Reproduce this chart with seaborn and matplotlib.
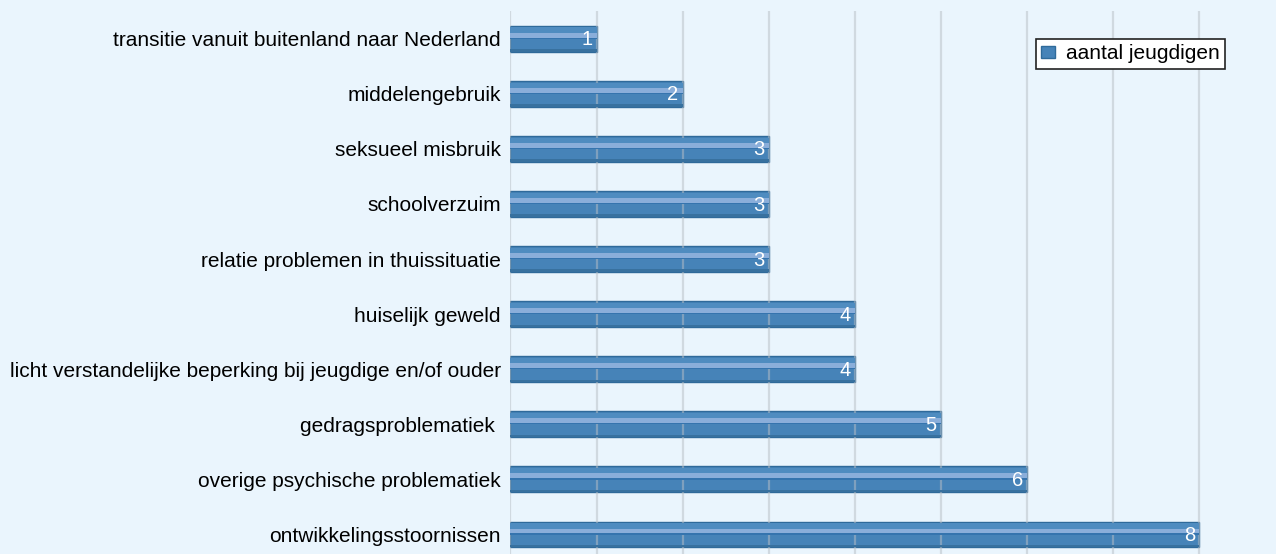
import matplotlib
matplotlib.use("Agg")
import matplotlib.pyplot as plt
import pandas as pd
import seaborn as sns

# data
categories = [
    "transitie vanuit buitenland naar Nederland",
    "middelengebruik",
    "seksueel misbruik",
    "schoolverzuim",
    "relatie problemen in thuissituatie",
    "huiselijk geweld",
    "licht verstandelijke beperking bij jeugdige en/of ouder",
    "gedragsproblematiek ",
    "overige psychische problematiek",
    "ontwikkelingsstoornissen",
]
counts = [1, 2, 3, 3, 3, 4, 4, 5, 6, 8]
series_name = "aantal jeugdigen"

BG = "#EAF5FD"
BAR = "#4683B8"
EDGE = "#2F6A9A"

df = pd.DataFrame({"categorie": categories, "aantal": counts})

sns.set_style("white")
plt.rcParams["font.family"] = ["Liberation Sans", "DejaVu Sans"]

fig = plt.figure(figsize=(12.76, 5.54), dpi=100, facecolor=BG)
ax = fig.add_axes([0.4, -0.0145, 0.6, 0.9945])
ax.set_facecolor(BG)

sns.barplot(data=df, x="aantal", y="categorie", orient="h", color=BAR,
            saturation=1, width=0.47, edgecolor=EDGE, linewidth=1.0,
            ax=ax, zorder=2, label=series_name)

# bevel look: lighter top band, light strip, dark centre line, darker bottom band
pos = list(range(len(categories)))
ax.barh([p - 0.155 for p in pos], counts, height=0.095, color="#4F8CC0",
        linewidth=0, zorder=3)
ax.barh([p - 0.063 for p in pos], counts, height=0.09, color="#8AAEDA",
        linewidth=0, zorder=3)
ax.barh([p - 0.008 for p in pos], counts, height=0.022, color="#3574AE",
        linewidth=0, zorder=4)
ax.barh([p + 0.212 for p in pos], counts, height=0.045, color="#38719F",
        linewidth=0, zorder=3)

for p, v in zip(pos, counts):
    ax.text(v - 0.05, p + 0.02, str(v), color="white", ha="right", va="center",
            fontsize=14.5, zorder=6)

ax.set_xlim(0, 8.89)
ax.set_ylim(len(categories) - 0.5, -0.5)
ax.set_xticks(range(0, 9))
ax.xaxis.grid(True, color="#B8BEC4", linewidth=1.6, alpha=0.5, zorder=5)
ax.set_axisbelow(False)
ax.tick_params(axis="x", length=0, labelbottom=False)
ax.tick_params(axis="y", length=0, labelsize=15, labelcolor="black", pad=7)
ax.set_xlabel("")
ax.set_ylabel("")
for s in ax.spines.values():
    s.set_visible(False)

leg = ax.legend(loc="upper right", bbox_to_anchor=(0.933, 0.949),
                fontsize=15, frameon=True, fancybox=False,
                handlelength=0.7, handleheight=0.5, handletextpad=0.5,
                borderpad=0.25, borderaxespad=0)
leg.get_frame().set_edgecolor("#222222")
leg.get_frame().set_linewidth(1.2)
leg.get_frame().set_facecolor("white")
leg.get_frame().set_alpha(1)
for t in leg.get_texts():
    t.set_color("black")
leg.set_zorder(10)

fig.savefig("out.png", dpi=100, facecolor=BG)
